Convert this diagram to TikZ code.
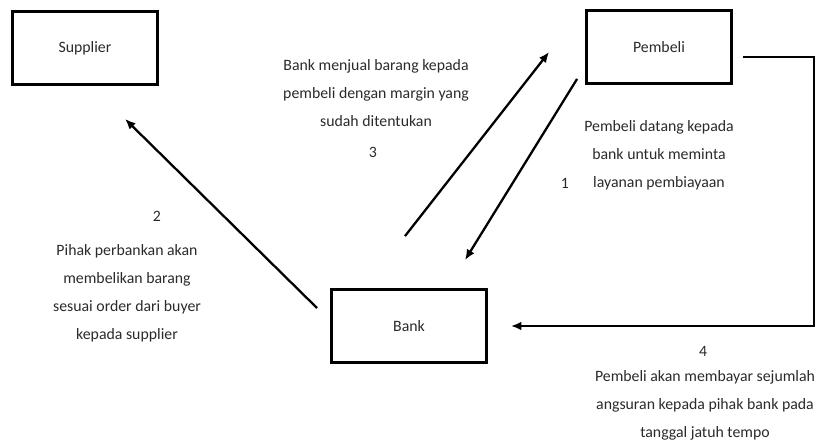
\documentclass[tikz,border=0pt]{standalone}
\usepackage{fontspec}
\setmainfont{Carlito}
\usepackage{tikz}
\usetikzlibrary{arrows.meta, positioning, calc}
\definecolor{txtgray}{HTML}{2A2A2A}

\begin{document}
\begin{tikzpicture}[
    x=0.02cm, y=-0.02cm,
    box/.style={draw=black, line width=1.6pt, fill=white,
                minimum width=2.9cm, minimum height=1.46cm,
                font=\fontsize{9}{11}\selectfont, text=txtgray},
    arr/.style={-{Latex[length=6pt, width=5pt]}, line width=1.3pt},
    note/.style={align=center, font=\fontsize{9}{16}\selectfont, text=txtgray},
]
    \useasboundingbox (0,0) rectangle (818,448);

    % boxes
    \node[box] (supplier) at (85,48) {Supplier};
    \node[box] (pembeli) at (659,47) {Pembeli};
    \node[box, minimum width=3.1cm] (bank) at (409,326) {Bank};

    % 1: pembeli -> bank
    \draw[arr] ([shift={(-8,-6)}]pembeli.south west) -- ([shift={(56,-28)}]bank.north);
    \node[note] (t1) at (659,155) {Pembeli datang kepada\\bank untuk meminta\\layanan pembiayaan};
    \node[note] (n1) at (565,183) {1};

    % 2: bank -> supplier
    \draw[arr] ([shift={(-13,20)}]bank.north west) -- ([shift={(40,33)}]supplier.south);
    \node[note] (n2) at (157,216) {2};
    \node[note] (t2) at (127,293) {Pihak perbankan akan\\membelikan barang\\sesuai order dari buyer\\kepada supplier};

    % 3: bank -> pembeli
    \draw[arr] ([shift={(-4,-52)}]bank.north) -- ([shift={(-36,5)}]pembeli.west);
    \node[note] (t3) at (376,93) {Bank menjual barang kepada\\pembeli dengan margin yang\\sudah ditentukan};
    \node[note] (n3) at (373,152) {3};

    % 4: pembeli -> bank (angsuran)
    \coordinate (turn) at (814,326);
    \draw[arr] ([shift={(10,10)}]pembeli.east) -| (turn) -- ([shift={(23,0)}]bank.east);
    \node[note] (n4) at (703,351) {4};
    \node[note] (t4) at (705,405) {Pembeli akan membayar sejumlah\\angsuran kepada pihak bank pada\\tanggal jatuh tempo};
\end{tikzpicture}
\end{document}
